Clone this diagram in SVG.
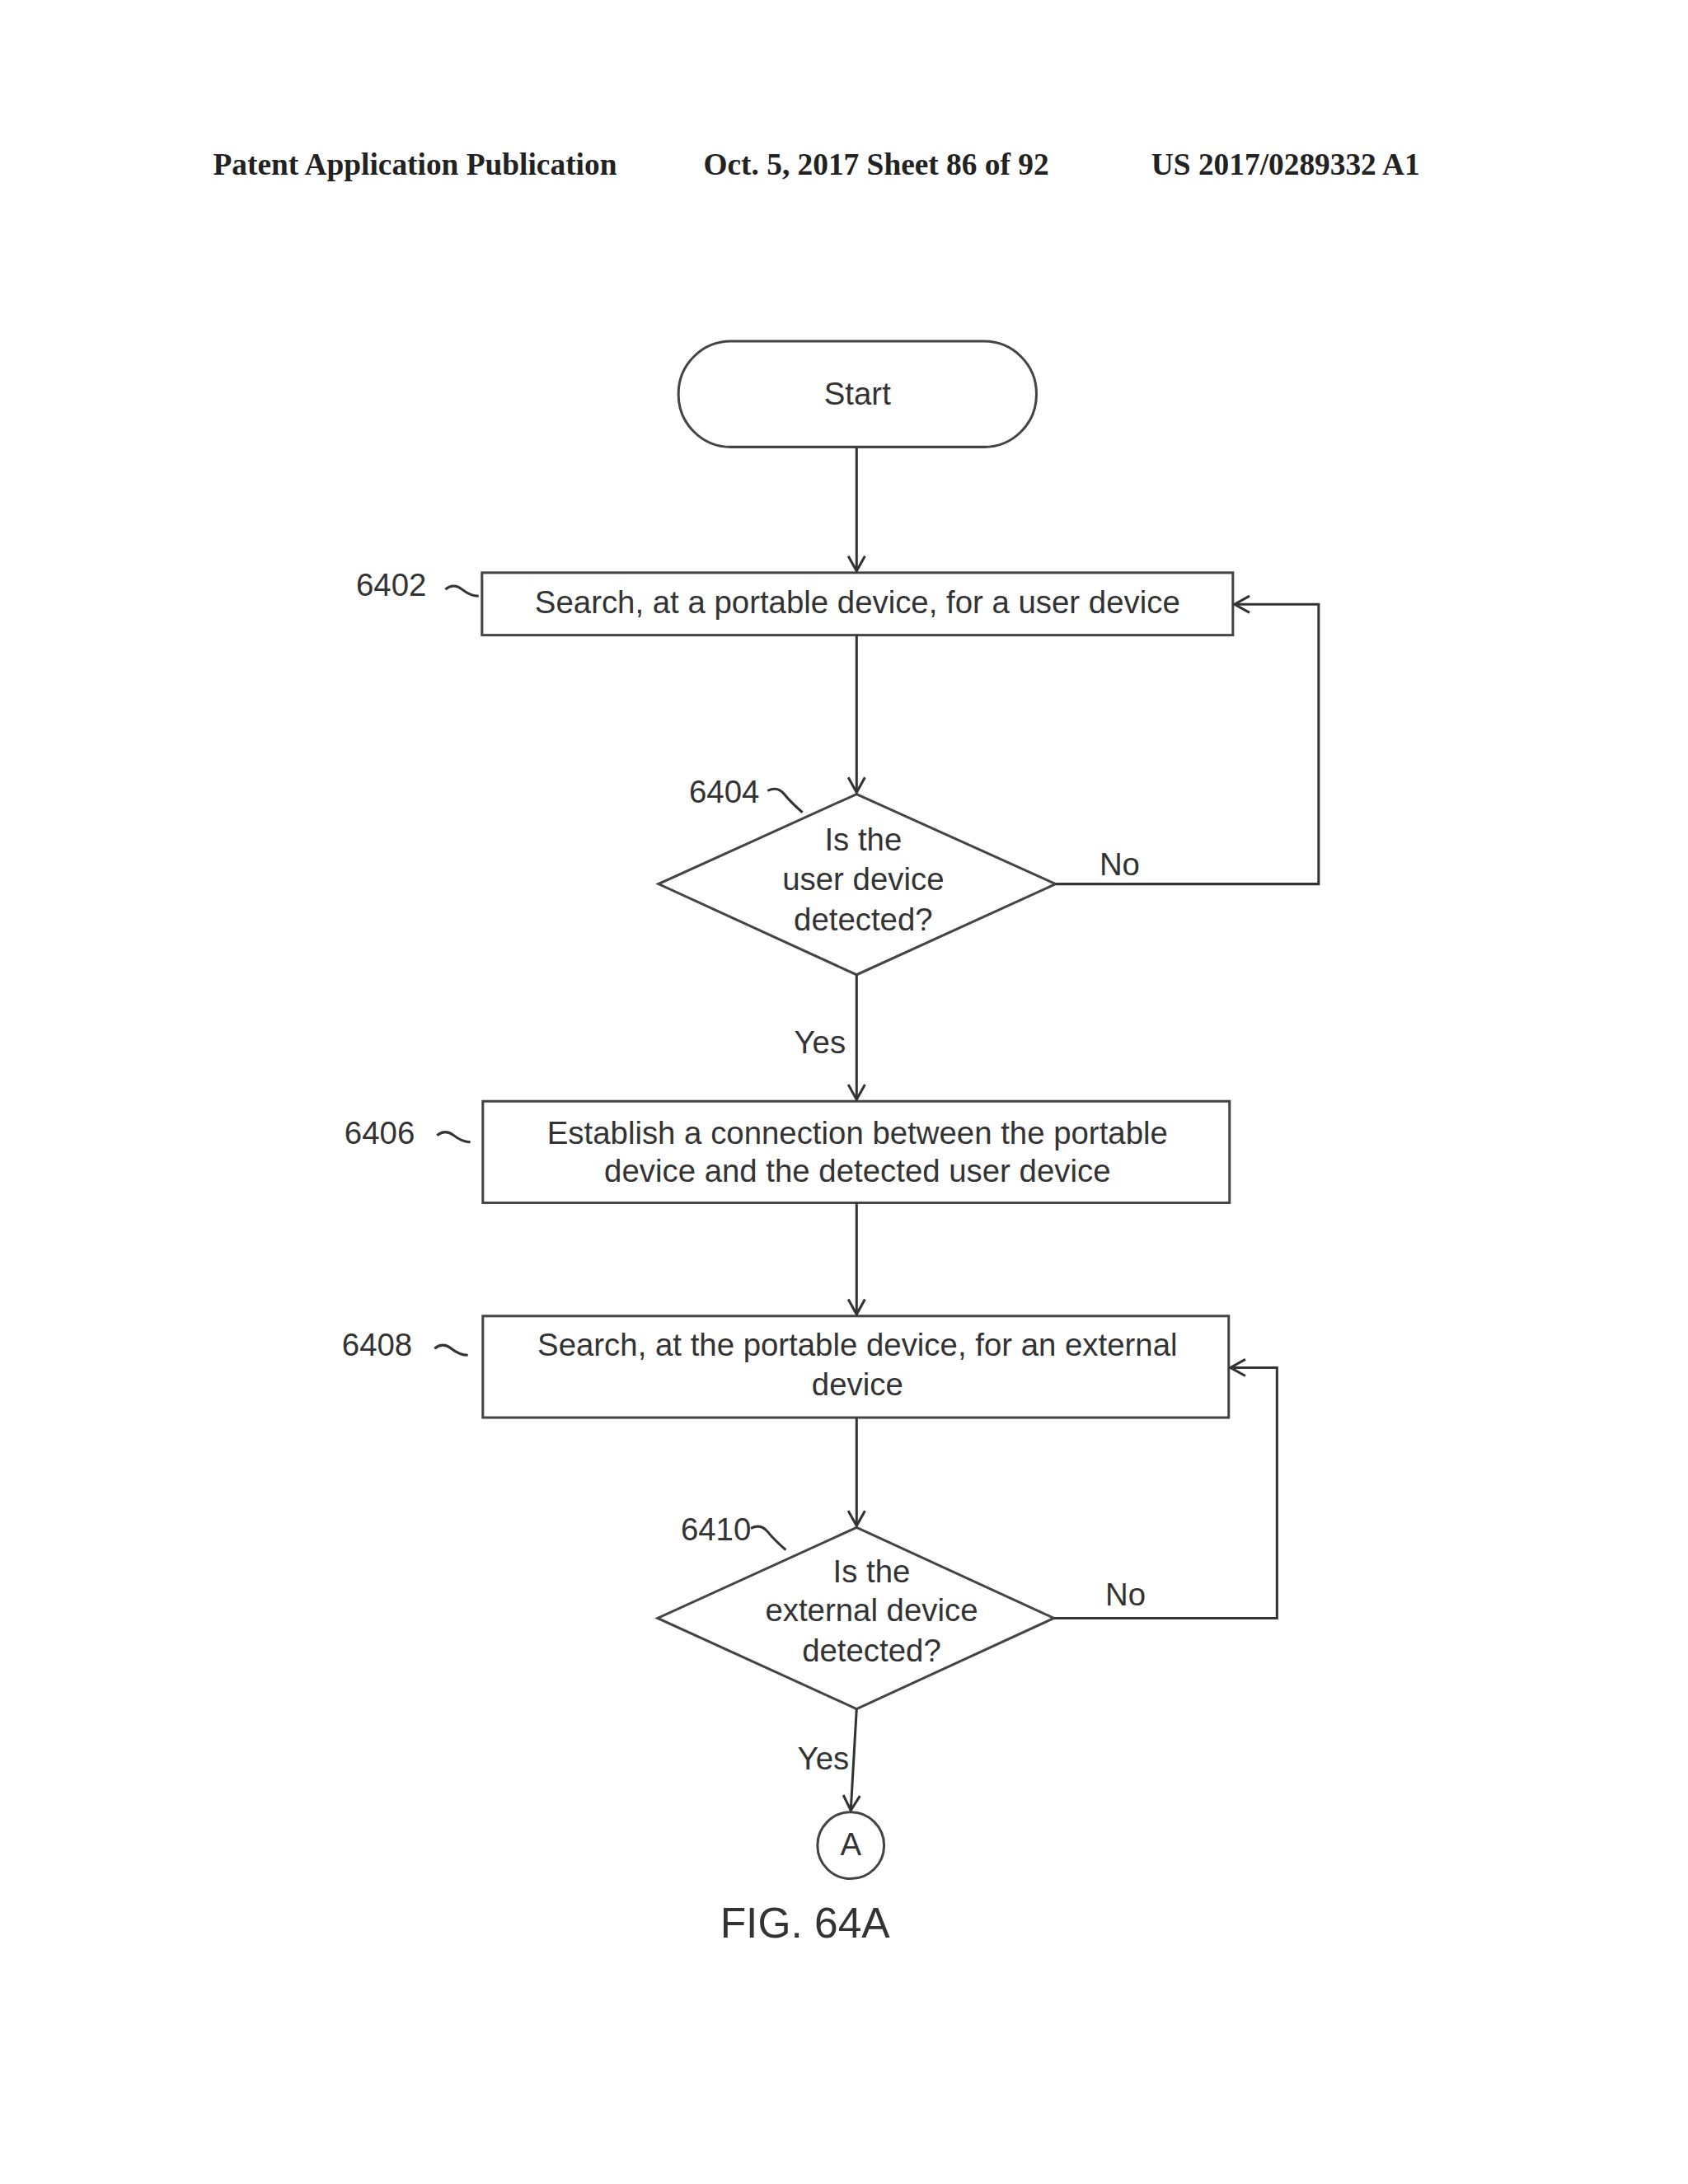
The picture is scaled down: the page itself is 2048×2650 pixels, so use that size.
<svg xmlns="http://www.w3.org/2000/svg" width="2048" height="2650" viewBox="0 0 2048 2650">
<defs>
<marker id="ah" markerWidth="24" markerHeight="24" refX="20" refY="12" orient="auto" markerUnits="userSpaceOnUse"><path d="M2,2 L20,12 L2,22" fill="none" stroke="#333" stroke-width="3"/></marker>
</defs>
<style>
.s{fill:#fff;stroke:#444;stroke-width:3}
.t{font-family:"Liberation Sans",Arial,sans-serif;font-size:38px;fill:#333;text-anchor:middle;dominant-baseline:middle}
.l{font-family:"Liberation Sans",Arial,sans-serif;font-size:38px;fill:#333;text-anchor:middle;dominant-baseline:middle}
.c{fill:none;stroke:#333;stroke-width:3}
.h{font-family:"Liberation Serif","Times New Roman",serif;font-size:37px;font-weight:bold;fill:#222;dominant-baseline:middle}
</style>
<rect width="2048" height="2650" fill="#fff"/>
<g transform="scale(1.01)">
<text class="h" x="256" y="201">Patent Application Publication</text>
<text class="h" x="845" y="201">Oct. 5, 2017   Sheet 86 of 92</text>
<text class="h" x="1383" y="201">US 2017/0289332 A1</text>
<g id="start"><rect class="s" x="815" y="410" width="430" height="127" rx="63"/><text class="t" x="1030" y="476">Start</text></g>
<g id="n6402"><rect class="s" x="579" y="688" width="902" height="75"/><text class="t" x="1030" y="727">Search, at a portable device, for a user device</text>
<text class="l" x="470" y="706">6402</text><path class="c" d="M535,708 q10,-8 20,0 t20,8" /></g>
<g id="n6404"><polygon class="s" points="1029,954 1268,1062 1029,1171 791,1062"/>
<text class="t" x="1037" y="1012">Is the</text><text class="t" x="1037" y="1059">user device</text><text class="t" x="1037" y="1108">detected?</text>
<text class="l" x="870" y="954">6404</text><path class="c" d="M922,950 q12,-6 20,4 t22,22"/></g>
<g id="n6406"><rect class="s" x="580" y="1323" width="897" height="122"/><text class="t" x="1030" y="1364">Establish a connection between the portable</text><text class="t" x="1030" y="1410">device and the detected user device</text>
<text class="l" x="456" y="1364">6406</text><path class="c" d="M525,1364 q10,-8 20,0 t20,8"/></g>
<g id="n6408"><rect class="s" x="580" y="1581" width="896" height="122"/><text class="t" x="1030" y="1619">Search, at the portable device, for an external</text><text class="t" x="1030" y="1666">device</text>
<text class="l" x="453" y="1619">6408</text><path class="c" d="M522,1620 q10,-8 20,0 t20,8"/></g>
<g id="n6410"><polygon class="s" points="1029,1835 1266,1944 1029,2053 790,1944"/>
<text class="t" x="1047" y="1891">Is the</text><text class="t" x="1047" y="1937">external device</text><text class="t" x="1047" y="1986">detected?</text>
<text class="l" x="860" y="1840">6410</text><path class="c" d="M902,1836 q12,-6 20,4 t22,22"/></g>
<g id="a"><circle class="s" cx="1022" cy="2217" r="40"/><text class="t" x="1022" y="2219">A</text></g>
<g id="connectors">
<line class="c" x1="1029" y1="537" x2="1029" y2="686" marker-end="url(#ah)"/>
<line class="c" x1="1029" y1="763" x2="1029" y2="952" marker-end="url(#ah)"/>
<polyline class="c" points="1268,1062 1584,1062 1584,726 1483,726" marker-end="url(#ah)"/>
<line class="c" x1="1029" y1="1171" x2="1029" y2="1321" marker-end="url(#ah)"/>
<line class="c" x1="1029" y1="1445" x2="1029" y2="1579" marker-end="url(#ah)"/>
<line class="c" x1="1029" y1="1703" x2="1029" y2="1833" marker-end="url(#ah)"/>
<polyline class="c" points="1266,1944 1534,1944 1534,1643 1478,1643" marker-end="url(#ah)"/>
<line class="c" x1="1029" y1="2053" x2="1022" y2="2175" marker-end="url(#ah)"/>
<text class="l" x="1345" y="1041">No</text>
<text class="l" x="985" y="1255">Yes</text>
<text class="l" x="1352" y="1919">No</text>
<text class="l" x="989" y="2116">Yes</text>
</g>
<text x="967" y="2314" style="font-family:'Liberation Sans',Arial,sans-serif;font-size:51px;fill:#333;text-anchor:middle;dominant-baseline:middle">FIG. 64A</text>
</g>
</svg>
